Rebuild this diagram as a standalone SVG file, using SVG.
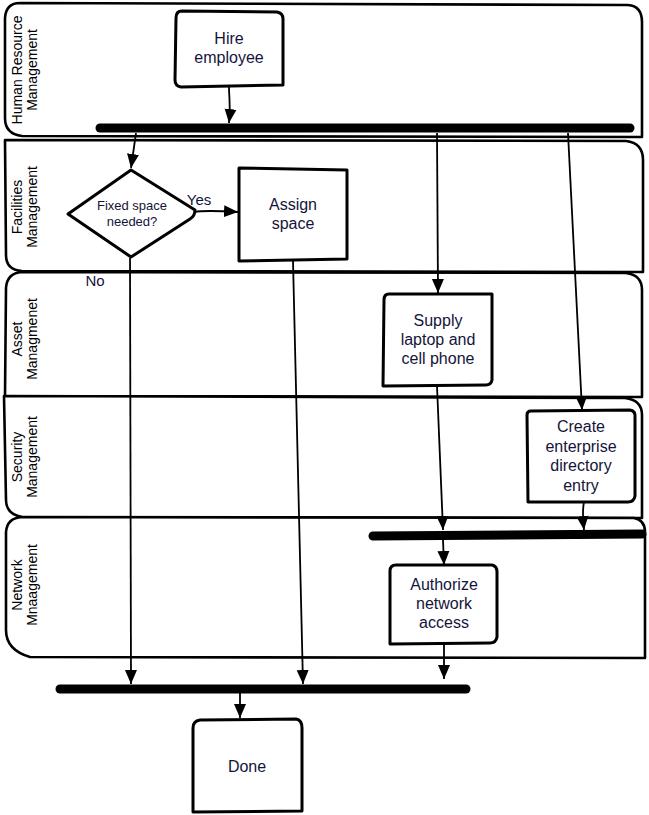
<svg xmlns="http://www.w3.org/2000/svg" width="649" height="815" viewBox="0 0 649 815">
<style>
.lane{fill:#fff;stroke:#000;stroke-width:2.6;stroke-linejoin:round}
.node{fill:#fff;stroke:#000;stroke-width:3;stroke-linejoin:round}
.bar{stroke:#000;stroke-width:9;stroke-linecap:round;fill:none}
.conn{fill:none;stroke:#000;stroke-width:1.8}
.t{font-family:"Liberation Sans",Arial,sans-serif;font-size:16px;fill:#14143a;text-anchor:middle}
.lt{font-family:"Liberation Sans",Arial,sans-serif;font-size:14px;fill:#000;text-anchor:middle}
.sm{font-size:13px}
</style>
<defs>
<marker id="ah" markerUnits="userSpaceOnUse" markerWidth="16" markerHeight="16" viewBox="0 0 16 16" refX="14" refY="8" orient="auto">
<path d="M0,2 L14,8 L0,14 Z" fill="#000"/>
</marker>
</defs>

<g id="lane-hr">
<path class="lane" d="M20,3 L628,5 Q642,6 642,22 L642,137 L22,136 Q5,134 5,118 L5,18 Q6,3 20,3 Z"/>
<text class="lt" transform="translate(22,70) rotate(-90)">Human Resource</text>
<text class="lt" transform="translate(37,70) rotate(-90)">Management</text>
</g>
<g id="lane-fac">
<path class="lane" d="M5,140 L626,141 Q643,143 643,160 L643,272 L22,271 Q6,270 6,255 Z"/>
<text class="lt" transform="translate(22,207) rotate(-90)">Facilities</text>
<text class="lt" transform="translate(37,207) rotate(-90)">Management</text>
</g>
<g id="lane-asset">
<path class="lane" d="M22,272 L626,273 Q642,275 642,290 L642,397 L5,396 L6,288 Q7,273 22,272 Z"/>
<text class="lt" transform="translate(22,339) rotate(-90)">Asset</text>
<text class="lt" transform="translate(37,339) rotate(-90)">Managmenet</text>
</g>
<g id="lane-sec">
<path class="lane" d="M4,396 L625,398 Q642,400 642,415 L642,518 L22,517 Q6,514 6,500 Z"/>
<text class="lt" transform="translate(22,457) rotate(-90)">Security</text>
<text class="lt" transform="translate(37,457) rotate(-90)">Management</text>
</g>
<g id="lane-net">
<path class="lane" d="M22,517 L634,518 Q645,520 645,532 L645,658 L30,657 Q6,650 6,630 L6,532 Q7,518 22,517 Z"/>
<text class="lt" transform="translate(22,585) rotate(-90)">Network</text>
<text class="lt" transform="translate(37,585) rotate(-90)">Mnaagement</text>
</g>

<g id="bar-fork1"><path class="bar" d="M100,128 L630,128"/></g>
<g id="bar-join1"><path class="bar" d="M373,536 L642,534"/></g>
<g id="bar-join2"><path class="bar" d="M60,689 L466,689"/></g>

<g id="n-hire">
<path class="node" d="M182,11 L277,12 Q283,13 283,19 L283,85 L181,87 Q175,86 175,80 L176,18 Q176,11 182,11 Z"/>
<text class="t" x="229" y="44">Hire</text>
<text class="t" x="229" y="63">employee</text>
</g>
<g id="n-decision">
<path class="node" d="M131,170 L195,210 Q195,216 190,219 L131,257 L68,214 Z"/>
<text class="t sm" x="132" y="210">Fixed space</text>
<text class="t sm" x="132" y="226">needed?</text>
</g>
<g id="n-assign">
<path class="node" d="M239,168 L347,170 L347,259 L239,261 Z"/>
<text class="t" x="293" y="210">Assign</text>
<text class="t" x="293" y="229">space</text>
</g>
<g id="n-supply">
<path class="node" d="M389,294 L492,294 L492,380 Q491,385 486,385 L383,386 L384,300 Q384,294 389,294 Z"/>
<text class="t" x="438" y="326">Supply</text>
<text class="t" x="438" y="345">laptop and</text>
<text class="t" x="438" y="364">cell phone</text>
</g>
<g id="n-create">
<path class="node" d="M531,411 L630,410 Q636,411 635,418 L635,496 Q634,502 628,502 L528,502 L527,415 Q527,411 531,411 Z"/>
<text class="t" x="581" y="432">Create</text>
<text class="t" x="581" y="452">enterprise</text>
<text class="t" x="581" y="471">directory</text>
<text class="t" x="581" y="491">entry</text>
</g>
<g id="n-authorize">
<path class="node" d="M396,565 L492,565 Q497,566 497,572 L497,637 Q496,643 490,643 L390,644 L390,571 Q390,565 396,565 Z"/>
<text class="t" x="444" y="590">Authorize</text>
<text class="t" x="444" y="609">network</text>
<text class="t" x="444" y="628">access</text>
</g>
<g id="n-done">
<path class="node" d="M200,720 L296,719 Q302,720 302,728 L302,811 L193,812 L193,728 Q193,721 200,720 Z"/>
<text class="t" x="247" y="772">Done</text>
</g>

<g id="connectors">
<path class="conn" marker-end="url(#ah)" d="M229,87 C229,100 231,105 229,123"/>
<path class="conn" marker-end="url(#ah)" d="M136,133 L131,168"/>
<path class="conn" marker-end="url(#ah)" d="M194,212 Q205,210 238,212"/>
<path class="conn" marker-end="url(#ah)" d="M130,258 L131,684"/>
<path class="conn" marker-end="url(#ah)" d="M293,261 L303,684"/>
<path class="conn" marker-end="url(#ah)" d="M437,133 L438,293"/>
<path class="conn" marker-end="url(#ah)" d="M568,133 L582,410"/>
<path class="conn" marker-end="url(#ah)" d="M437,386 L443,530"/>
<path class="conn" marker-end="url(#ah)" d="M584,502 Q582,512 584,530"/>
<path class="conn" marker-end="url(#ah)" d="M443,540 L444,565"/>
<path class="conn" marker-end="url(#ah)" d="M444,644 L444,679"/>
<path class="conn" marker-end="url(#ah)" d="M240,693 L240,718"/>
<text class="t" x="199" y="205" style="font-size:15px">Yes</text>
<text class="t" x="95" y="286" style="font-size:15px">No</text>
</g>
</svg>
